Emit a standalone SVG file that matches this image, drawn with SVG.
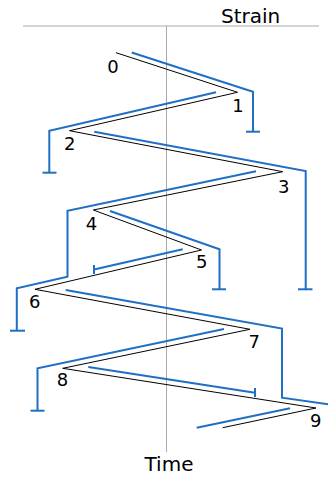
<svg xmlns="http://www.w3.org/2000/svg" width="328" height="477" viewBox="0 0 328 477">
<style>
.ax{stroke:#aaaaaa;stroke-width:1;fill:none}
.bk{stroke:#000;stroke-width:1;fill:none}
.bl{stroke:#1f6fc5;stroke-width:2;fill:none}
.t{font-family:"DejaVu Sans",sans-serif;fill:#000}
.n{font-size:18px;text-anchor:middle}
.h{font-size:20px}
</style>
<rect width="328" height="477" fill="#fff"/>
<g id="axes">
<line class="ax" x1="23" y1="26" x2="319" y2="26"/>
<line class="ax" x1="166.5" y1="26" x2="166.5" y2="452"/>
<text class="t h" x="221" y="22.5">Strain</text>
<text class="t h" x="169" y="471" text-anchor="middle">Time</text>
</g>
<g id="connectors">
<polyline class="bk" points="116,52.7 237.5,92.3 69.5,130.7 282.7,171.7 93.3,210 201.5,250 35,289.3 250,329.3 62.7,368.3 316,408 222.7,427.7"/>
<polyline class="bl" points="131.7,52.5 253,91.7 253,131.7"/>
<line class="bl" x1="246" y1="131.7" x2="260" y2="131.7"/>
<polyline class="bl" points="216,92.3 49.3,130.8 49.3,172.7"/>
<line class="bl" x1="42.5" y1="172.7" x2="56.5" y2="172.7"/>
<polyline class="bl" points="94.3,131.8 305.7,171 305.7,289.3"/>
<line class="bl" x1="298" y1="289.3" x2="312.5" y2="289.3"/>
<polyline class="bl" points="256,171.2 67.5,210.7 67.5,276.7 16.8,288.3 16.8,330.7"/>
<line class="bl" x1="10" y1="330.7" x2="25" y2="330.7"/>
<polyline class="bl" points="110,211 219.5,249.3 219.5,289.3"/>
<line class="bl" x1="212" y1="289.3" x2="226" y2="289.3"/>
<line class="bl" x1="182.7" y1="249.3" x2="94" y2="269.5"/>
<line class="bl" x1="94" y1="265" x2="94" y2="274"/>
<polyline class="bl" points="65.7,290 282,328.5 282,397.7 330,404.5"/>
<polyline class="bl" points="224,329 37.5,368.3 37.5,410.7"/>
<line class="bl" x1="30.5" y1="410.7" x2="44.5" y2="410.7"/>
<line class="bl" x1="88.3" y1="367" x2="255" y2="392.7"/>
<line class="bl" x1="255" y1="388" x2="255" y2="397"/>
<line class="bl" x1="290" y1="408.3" x2="196.7" y2="427.7"/>
</g>
<g id="n0"><text class="t n" x="113" y="72.5">0</text></g>
<g id="n1"><text class="t n" x="238" y="111.7">1</text></g>
<g id="n2"><text class="t n" x="69.7" y="150">2</text></g>
<g id="n3"><text class="t n" x="283.7" y="193.3">3</text></g>
<g id="n4"><text class="t n" x="91.5" y="230">4</text></g>
<g id="n5"><text class="t n" x="201.7" y="268.3">5</text></g>
<g id="n6"><text class="t n" x="34.7" y="308.3">6</text></g>
<g id="n7"><text class="t n" x="254.3" y="347.7">7</text></g>
<g id="n8"><text class="t n" x="62.5" y="386">8</text></g>
<g id="n9"><text class="t n" x="315.8" y="426.7">9</text></g>
</svg>
